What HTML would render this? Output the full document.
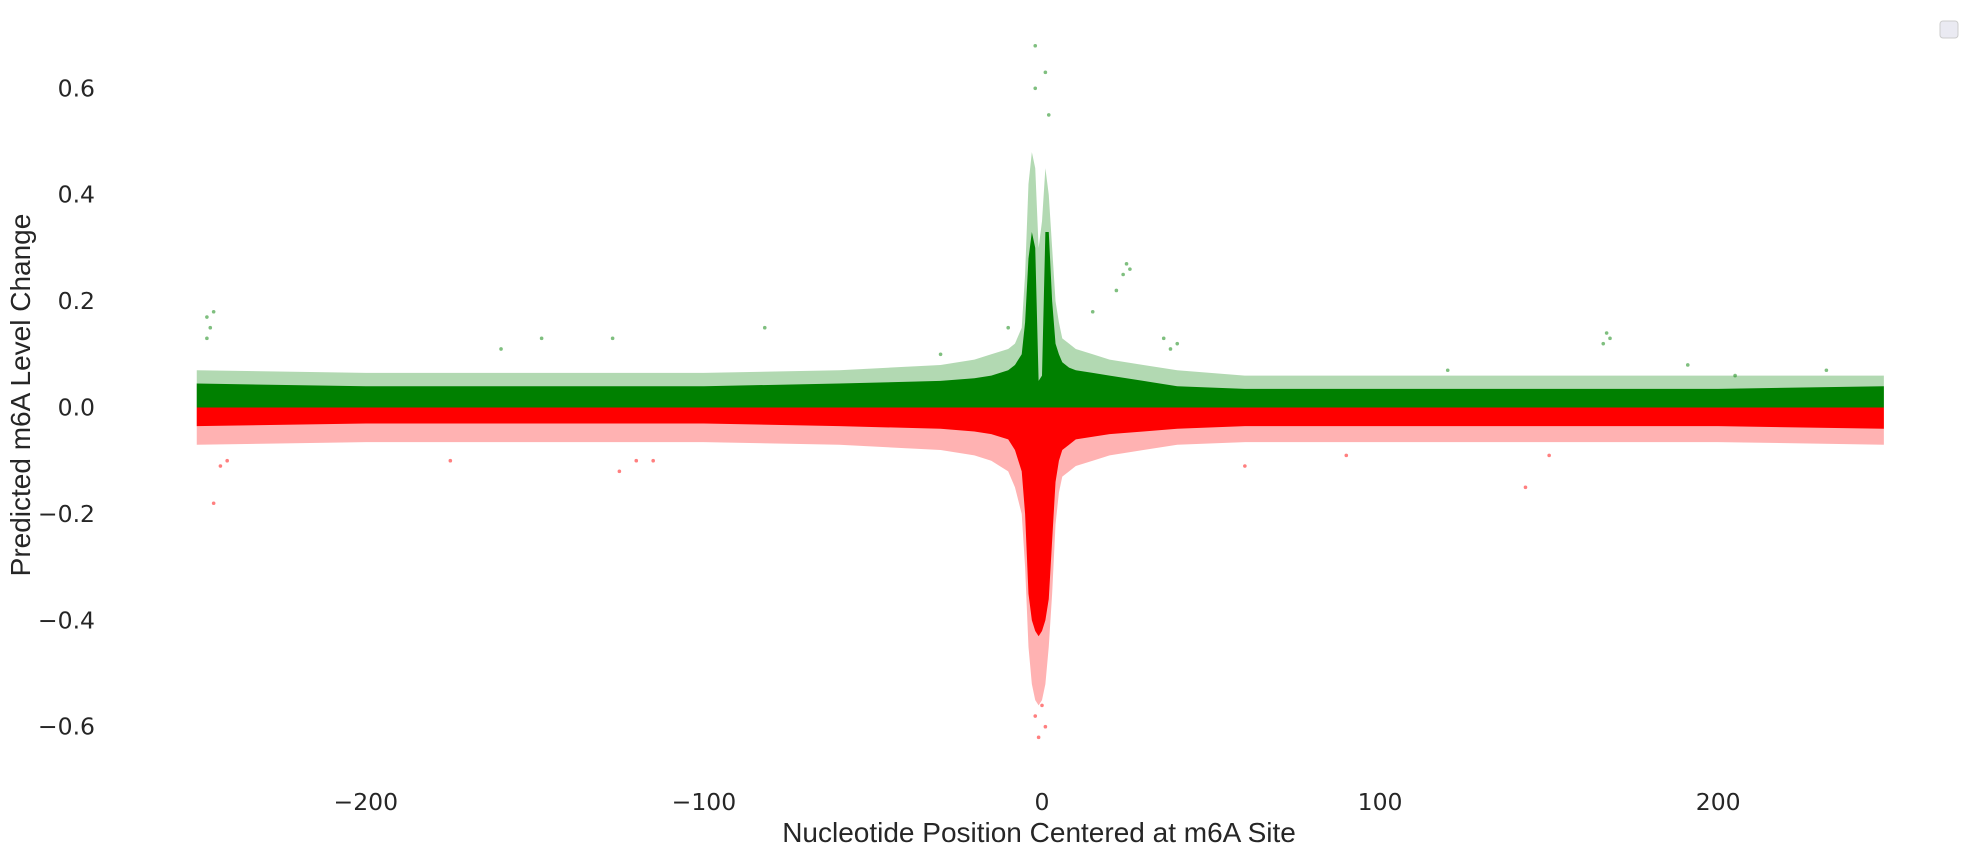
<!DOCTYPE html>
<html><head><meta charset="utf-8"><style>
html,body{margin:0;padding:0;background:#fff;}
svg{display:block;}
text{fill:#262626;}
.tick{font-family:"DejaVu Sans","Liberation Sans",sans-serif;font-size:23.5px;}
.lab{font-family:"Liberation Sans","DejaVu Sans",sans-serif;font-size:28px;}
</style></head><body>
<svg id="chart" width="1978" height="855" viewBox="0 0 1978 855" xmlns="http://www.w3.org/2000/svg">
<g id="plot"></g>
<g id="xt"></g>
<g id="yt"></g>
<text class="lab" x="1039" y="842" text-anchor="middle">Nucleotide Position Centered at m6A Site</text>
<text class="lab" transform="translate(30,395) rotate(-90)" text-anchor="middle">Predicted m6A Level Change</text>
<rect x="1940" y="21" width="18" height="17" rx="3" fill="#eaeaf2" stroke="#cccccc"/>
</svg>
<script>
const positions = [-250,-200,-150,-100,-60,-30,-20,-15,-10,-8,-6,-5,-4,-3,-2,-1,0,1,2,3,4,5,6,8,10,15,20,30,40,60,100,150,200,249];
const greenDense = [0.045,0.04,0.04,0.04,0.045,0.05,0.055,0.06,0.07,0.08,0.1,0.16,0.28,0.33,0.3,0.05,0.06,0.33,0.33,0.2,0.12,0.1,0.085,0.075,0.07,0.065,0.06,0.05,0.04,0.035,0.035,0.035,0.035,0.04];
const greenLight = [0.07,0.065,0.065,0.065,0.07,0.08,0.09,0.1,0.11,0.12,0.15,0.25,0.42,0.48,0.45,0.3,0.35,0.45,0.4,0.3,0.2,0.16,0.13,0.12,0.11,0.1,0.09,0.08,0.07,0.06,0.06,0.06,0.06,0.06];
const redDense = [-0.035,-0.03,-0.03,-0.03,-0.035,-0.04,-0.045,-0.05,-0.06,-0.08,-0.12,-0.2,-0.35,-0.4,-0.42,-0.43,-0.42,-0.4,-0.36,-0.25,-0.14,-0.1,-0.08,-0.07,-0.06,-0.055,-0.05,-0.045,-0.04,-0.035,-0.035,-0.035,-0.035,-0.04];
const redLight = [-0.07,-0.065,-0.065,-0.065,-0.07,-0.08,-0.09,-0.1,-0.12,-0.15,-0.2,-0.3,-0.45,-0.52,-0.55,-0.56,-0.55,-0.52,-0.45,-0.35,-0.22,-0.16,-0.13,-0.12,-0.11,-0.1,-0.09,-0.08,-0.07,-0.065,-0.065,-0.065,-0.065,-0.07];
const outX = [-247,-245,-247,-246,-243,-241,-245,-2,1,2,-2,25,24,26,22,36,38,40,167,168,166,-82,-148,-127,143,-1,1,-2,0,191,232,205,120,-175,-125,-120,-115,-160,90,60,150,-10,-30,15];
const outY = [0.17,0.18,0.13,0.15,-0.11,-0.1,-0.18,0.68,0.63,0.55,0.6,0.27,0.25,0.26,0.22,0.13,0.11,0.12,0.14,0.13,0.12,0.15,0.13,0.13,-0.15,-0.62,-0.6,-0.58,-0.56,0.08,0.07,0.06,0.07,-0.1,-0.12,-0.1,-0.1,0.11,-0.09,-0.11,-0.09,0.15,0.1,0.18];
const xTicks = [-200,-100,0,100,200];
const xTickLabels = ["\u2212200","\u2212100","0","100","200"];
const yTicks = [0.6,0.4,0.2,0.0,-0.2,-0.4,-0.6];
const yTickLabels = ["0.6","0.4","0.2","0.0","\u22120.2","\u22120.4","\u22120.6"];

const NS = "http://www.w3.org/2000/svg";
const X = v => 1042 + v * 3.381;
const Y = v => 407.5 - v * 532;
const plot = document.getElementById('plot');

function band(top, bottom, color, op, name) {
  let pts = [];
  positions.forEach((p, i) => pts.push(X(p) + ',' + Y(top[i])));
  for (let i = positions.length - 1; i >= 0; i--) pts.push(X(positions[i]) + ',' + Y(bottom[i]));
  const poly = document.createElementNS(NS, 'polygon');
  poly.setAttribute('points', pts.join(' '));
  poly.setAttribute('fill', color);
  poly.setAttribute('fill-opacity', op);
  
  
  plot.appendChild(poly);
}
const zeros = positions.map(() => 0);
band(greenLight, zeros, '#008000', 0.3, 'increase-sparse-band');
band(zeros, redLight, '#ff0000', 0.3, 'decrease-sparse-band');
band(greenDense, zeros, '#008000', 1, 'increase-dense-band');
band(zeros, redDense, '#ff0000', 1, 'decrease-dense-band');

outX.forEach((x, i) => {
  const c = document.createElementNS(NS, 'circle');
  c.setAttribute('cx', X(x));
  c.setAttribute('cy', Y(outY[i]));
  c.setAttribute('r', 1.8);
  c.setAttribute('fill', outY[i] >= 0 ? '#008000' : '#ff0000');
  c.setAttribute('fill-opacity', 0.5);
  
  
  plot.appendChild(c);
});

const xt = document.getElementById('xt');
xTicks.forEach((v, i) => {
  const t = document.createElementNS(NS, 'text');
  t.setAttribute('class', 'tick');
  t.setAttribute('x', X(v));
  t.setAttribute('y', 810);
  t.setAttribute('text-anchor', 'middle');
  
  
  t.textContent = xTickLabels[i];
  xt.appendChild(t);
});
const yt = document.getElementById('yt');
yTicks.forEach((v, i) => {
  const t = document.createElementNS(NS, 'text');
  t.setAttribute('class', 'tick');
  t.setAttribute('x', 95);
  t.setAttribute('y', Y(v) + 8);
  t.setAttribute('text-anchor', 'end');
  
  
  t.textContent = yTickLabels[i];
  yt.appendChild(t);
});
</script>
</body></html>
